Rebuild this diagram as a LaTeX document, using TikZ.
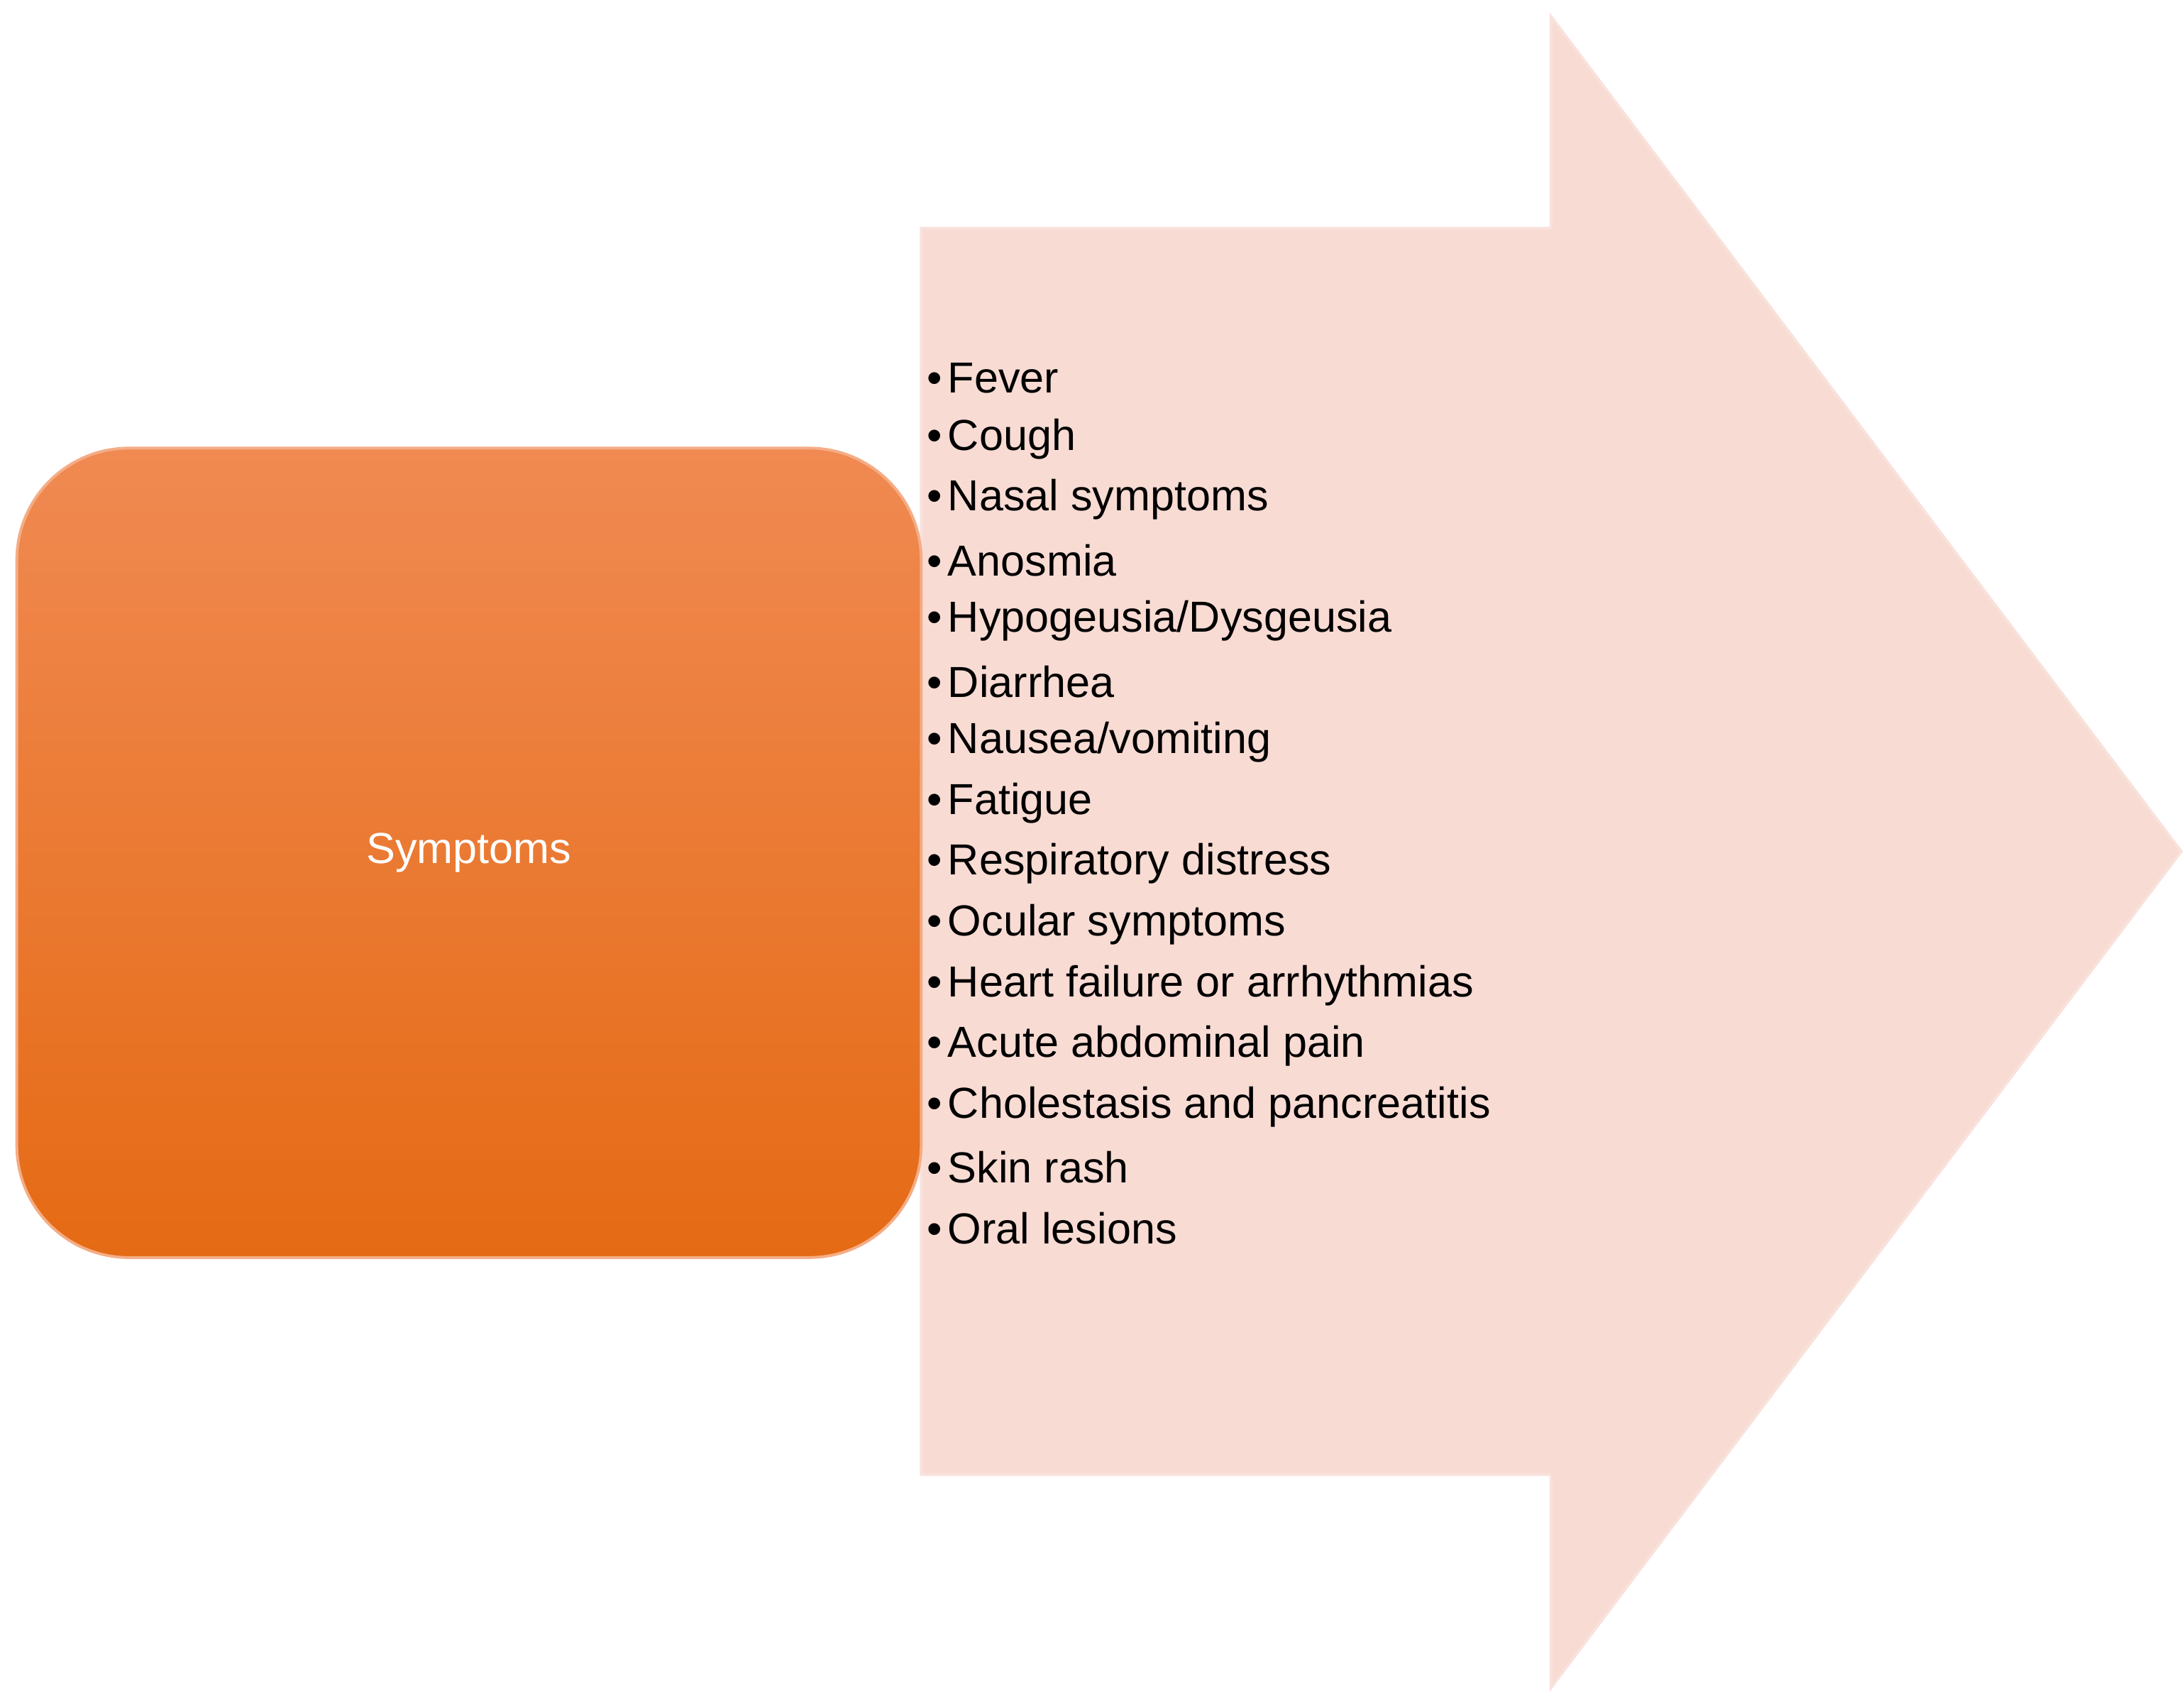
\documentclass[tikz,border=0pt]{standalone}
\usepackage{fontspec}
\setmainfont{Liberation Sans}
\begin{document}
\begin{tikzpicture}[x=1pt,y=-1pt,
  item/.style={anchor=west,inner sep=0pt,font=\fontsize{31}{31}\selectfont,text=black}]
\useasboundingbox (0,0) rectangle (1560,1208);
\definecolor{arrowfill}{HTML}{F8DBD3}
\definecolor{boxtop}{HTML}{F08A52}
\definecolor{boxbot}{HTML}{E56A14}
\path[fill=arrowfill,draw=arrowfill!80!white,line width=2pt]
  (658,163) -- (1108,163) -- (1108,12) -- (1558,608) -- (1108,1205) -- (1108,1053) -- (658,1053) -- cycle;
\node[draw=boxtop!70!white,line width=2pt,rounded corners=80pt,top color=boxtop,bottom color=boxbot,
  minimum width=646pt,minimum height=578pt,inner sep=0pt] (box) at (335,609) {};
\node[text=white,font=\fontsize{31}{31}\selectfont] (sym) at (box.center) {Symptoms};
\foreach \t [count=\i from 0] in {Fever,Cough,Nasal symptoms,Anosmia,Hypogeusia/Dysgeusia,Diarrhea,Nausea/vomiting,Fatigue,Respiratory distress,Ocular symptoms,Heart failure or arrhythmias,Acute abdominal pain,Cholestasis and pancreatitis,Skin rash,Oral lesions}
  \node[item] (t\i) at (662,{270+43.36*\i}) {\textbullet\hspace{4pt}\t};
\end{tikzpicture}
\end{document}
